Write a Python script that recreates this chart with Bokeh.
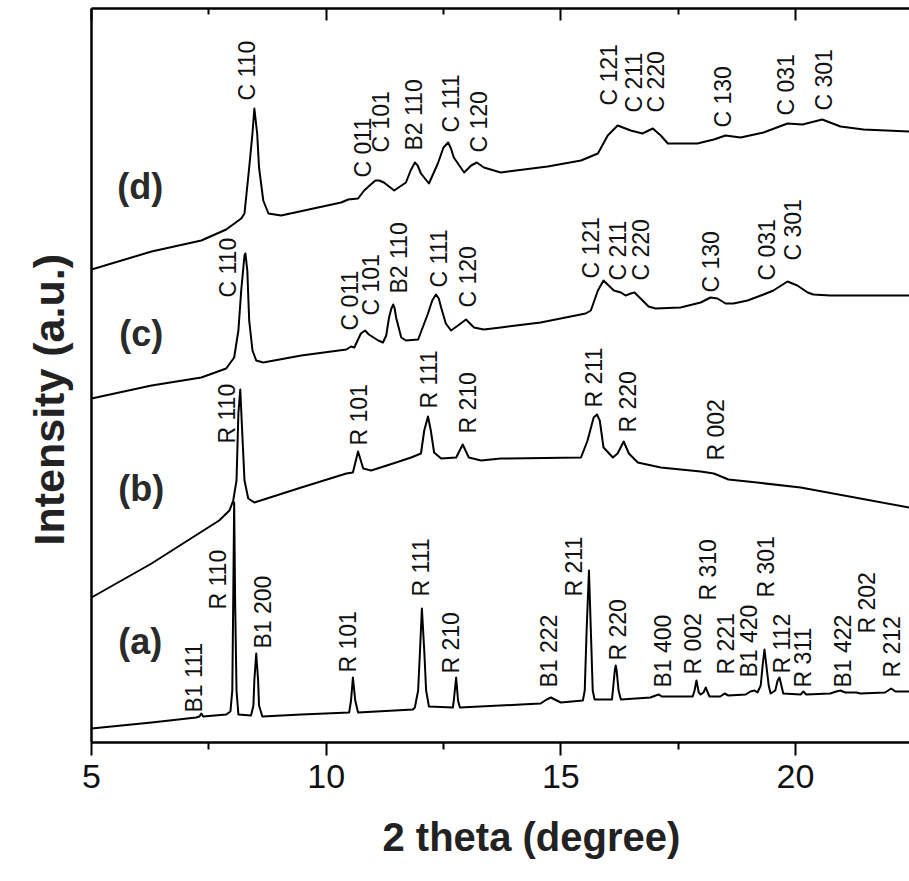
import math

from bokeh.core.properties import value
from bokeh.embed import file_html
from bokeh.models import ColumnDataSource, FixedTicker, LinearAxis, Range1d, Title
from bokeh.plotting import figure
from bokeh.resources import INLINE

# ---------------------------------------------------------------------------
# XRD patterns: 2-theta (degree) vs. intensity (a.u., offset per pattern)
# ---------------------------------------------------------------------------
two_theta_a = [5.00, 6.28, 7.23, 7.30, 7.34, 7.38, 7.87, 7.96, 8.00, 8.02, 8.04, 8.06,
               8.09, 8.13, 8.40, 8.45, 8.47, 8.51, 8.55, 8.57, 8.64, 9.47, 10.49, 10.53,
               10.57, 10.62, 10.68, 11.85, 11.89, 11.96, 12.00, 12.04, 12.09, 12.13, 12.19,
               12.70, 12.72, 12.77, 12.81, 12.85, 14.15, 14.57, 14.70, 14.79, 14.87, 15.00,
               15.47, 15.51, 15.55, 15.60, 15.64, 15.68, 15.72, 16.09, 16.11, 16.15, 16.17,
               16.19, 16.23, 16.28, 16.91, 17.02, 17.09, 17.15, 17.81, 17.85, 17.89, 17.94,
               17.98, 18.04, 18.09, 18.13, 18.17, 18.40, 18.49, 18.57, 18.94, 19.04, 19.13,
               19.19, 19.26, 19.30, 19.34, 19.38, 19.43, 19.47, 19.57, 19.62, 19.66, 19.70,
               19.74, 20.11, 20.17, 20.23, 20.74, 20.87, 20.96, 21.06, 21.30, 21.38, 21.91,
               22.04, 22.13, 22.43]
intensity_a = [14, 20, 25, 26, 29, 26, 28, 31, 52, 142, 240, 142,
               52, 28, 27, 37, 62, 89, 62, 37, 26, 28, 30, 42,
               65, 42, 30, 33, 35, 52, 92, 134, 92, 52, 36,
               35, 42, 65, 42, 35, 38, 39, 43, 45, 43, 40,
               42, 52, 112, 172, 112, 52, 43, 43, 52, 72, 77,
               72, 52, 43, 45, 47, 48, 46, 46, 52, 62, 50,
               48, 50, 55, 50, 46, 46, 49, 47, 48, 51, 52,
               50, 57, 77, 93, 77, 57, 49, 52, 62, 65, 57,
               49, 48, 51, 48, 49, 51, 52, 50, 50, 49, 50,
               54, 51, 51]

two_theta_b = [5.00, 6.28, 7.72, 7.94, 8.02, 8.09, 8.13, 8.17, 8.21, 8.26, 8.34, 8.47,
               9.47, 10.43, 10.57, 10.68, 10.79, 10.96, 11.49, 11.81, 12.02, 12.09, 12.17,
               12.23, 12.30, 12.45, 12.77, 12.91, 13.04, 13.30, 13.72, 15.43, 15.57, 15.70,
               15.77, 15.83, 15.91, 16.11, 16.21, 16.34, 16.45, 16.64, 17.13, 17.98, 18.26,
               18.47, 18.57, 18.98, 20.11, 22.43]
intensity_b = [145, 179, 222, 232, 242, 262, 329, 353, 312, 262, 244, 240,
               255, 269, 270, 291, 274, 272, 280, 285, 289, 312, 326,
               312, 290, 284, 285, 298, 285, 282, 284, 285, 302, 325,
               328, 322, 295, 285, 289, 301, 289, 280, 275, 271, 269,
               265, 263, 261, 255, 235]

two_theta_c = [5.00, 6.28, 7.34, 7.87, 8.04, 8.13, 8.19, 8.26, 8.28, 8.32, 8.36, 8.43,
               8.51, 8.66, 9.47, 10.43, 10.53, 10.60, 10.74, 10.83, 10.91, 11.11, 11.21,
               11.28, 11.34, 11.39, 11.43, 11.46, 11.49, 11.60, 11.70, 11.96, 12.17, 12.26,
               12.34, 12.40, 12.45, 12.55, 12.66, 12.81, 12.98, 13.15, 13.36, 13.72, 14.57,
               15.53, 15.64, 15.79, 15.91, 16.13, 16.28, 16.38, 16.49, 16.57, 16.70, 16.87,
               17.02, 17.55, 17.98, 18.19, 18.34, 18.51, 18.68, 18.98, 19.32, 19.53, 19.83,
               20.04, 20.26, 20.38, 20.74, 22.43]
intensity_c = [344, 357, 365, 374, 385, 412, 452, 487, 489, 472, 422, 392,
               382, 380, 387, 393, 396, 395, 409, 412, 408, 402, 400,
               407, 425, 434, 438, 434, 425, 405, 402, 403, 429, 442,
               448, 444, 435, 419, 412, 417, 423, 415, 413, 415, 420,
               429, 432, 452, 462, 452, 450, 447, 449, 450, 444, 436,
               434, 435, 440, 445, 444, 439, 439, 442, 448, 452, 461,
               457, 450, 448, 447, 447]

two_theta_d = [5.00, 6.28, 7.34, 7.87, 8.19, 8.26, 8.36, 8.43, 8.47, 8.53, 8.57, 8.66,
               8.77, 9.04, 10.32, 10.47, 10.68, 10.81, 10.95, 11.05, 11.13, 11.23, 11.45,
               11.70, 11.80, 11.89, 11.95, 12.02, 12.19, 12.38, 12.50, 12.60, 12.66, 12.72,
               12.94, 13.09, 13.21, 13.36, 13.72, 14.72, 15.43, 15.79, 16.00, 16.21, 16.49,
               16.74, 16.96, 17.13, 17.28, 17.91, 18.26, 18.51, 18.83, 19.32, 19.83, 20.15,
               20.57, 20.96, 21.45, 22.43]
intensity_d = [473, 491, 502, 513, 524, 529, 575, 609, 634, 609, 575, 542,
               529, 527, 540, 543, 544, 552, 558, 562, 562, 560, 552,
               560, 572, 580, 577, 569, 559, 579, 595, 600, 594, 585,
               570, 577, 580, 575, 570, 576, 582, 589, 607, 617, 612,
               609, 614, 607, 599, 599, 603, 607, 605, 610, 619, 618,
               623, 616, 613, 611]

# Reflection assignments (R, B1, B2, C phases) for each pattern
peaks_a = ["B1 111", "R 110", "B1 200", "R 101", "R 111", "R 210", "B1 222", "R 211",
           "R 220", "B1 400", "R 002", "R 310", "R 221", "B1 420", "R 301", "R 112",
           "R 311", "B1 422", "R 202", "R 212"]
peaks_b = ["R 110", "R 101", "R 111", "R 210", "R 211", "R 220", "R 002"]
peaks_c = ["C 110", "C 011", "C 101", "B2 110", "C 111", "C 120", "C 121", "C 211",
           "C 220", "C 130", "C 031", "C 301"]
peaks_d = list(peaks_c)

sample_names = ["(a)", "(b)", "(c)", "(d)"]

x_ticks = [5, 10, 15, 20]
x_minor_ticks = [7.5, 12.5, 17.5, 22.5]

# ---------------------------------------------------------------------------
# Annotation layout: anchor (2-theta, a.u.) where each rotated label starts
# ---------------------------------------------------------------------------
label_pos_a = ([7.19, 7.70, 8.66, 10.47, 12.02, 12.66, 14.74, 15.28, 16.21, 17.17,
                17.81, 18.13, 18.51, 19.02, 19.38, 19.72, 20.17, 21.02, 21.53, 22.06],
               [30, 133, 94, 70, 146, 69, 55, 146, 82, 55,
                68, 142, 68, 65, 145, 69, 55, 55, 109, 65])
label_pos_b = ([7.89, 10.70, 12.19, 13.02, 15.70, 16.43, 18.30],
               [299, 297, 334, 309, 335, 310, 282])
label_pos_c = ([7.91, 10.51, 10.96, 11.55, 12.40, 13.02, 15.64, 16.21, 16.70, 18.19,
                19.40, 19.94],
               [445, 412, 427, 449, 455, 435, 464, 462, 462, 450, 462, 482])
label_pos_d = ([8.32, 10.79, 11.17, 11.87, 12.66, 13.26, 16.02, 16.55, 17.02, 18.45,
                19.79, 20.60],
               [642, 565, 590, 592, 610, 590, 637, 630, 630, 615, 627, 632])
sample_pos = ([6.04, 6.06, 6.06, 6.04], [101, 254, 409, 556])

FONT = "Liberation Sans"
INK = "#111111"
TITLE_INK = "#222222"

p = figure(width=909, height=881, output_backend="svg", toolbar_location=None,
           x_range=Range1d(5, 22.43), y_range=Range1d(0, 734),
           x_axis_location=None, y_axis_location=None,
           min_border_left=91, min_border_right=0, min_border_top=8,
           min_border_bottom=139)
p.outline_line_color = None
p.background_fill_color = "white"
p.border_fill_color = "white"
p.xgrid.grid_line_color = None
p.ygrid.grid_line_color = None

# diffraction curves
for xs, ys in [(two_theta_a, intensity_a), (two_theta_b, intensity_b),
               (two_theta_c, intensity_c), (two_theta_d, intensity_d)]:
    p.line(xs, ys, line_color="black", line_width=2, line_join="round")

# rotated reflection labels
for names, (lx, ly) in [(peaks_a, label_pos_a), (peaks_b, label_pos_b),
                        (peaks_c, label_pos_c), (peaks_d, label_pos_d)]:
    src = ColumnDataSource(dict(x=lx, y=ly, t=names))
    p.text(x="x", y="y", text="t", source=src, angle=math.pi / 2,
           text_align="left", text_baseline="middle",
           text_font=value(FONT), text_font_size="23px", text_color=INK)

# sample tags
p.text(x=sample_pos[0], y=sample_pos[1], text=sample_names,
       text_align="center", text_baseline="middle",
       text_font=value(FONT), text_font_size="36px", text_font_style="bold",
       text_color="#2a2a2a")

ticker = FixedTicker(ticks=x_ticks, minor_ticks=x_minor_ticks)

bottom = LinearAxis(ticker=ticker)
bottom.axis_line_width = 2.5
bottom.major_tick_line_width = 2
bottom.minor_tick_line_width = 2
bottom.major_tick_in = 0
bottom.major_tick_out = 13
bottom.minor_tick_in = 0
bottom.minor_tick_out = 7
bottom.major_label_standoff = 9
bottom.major_label_text_font = FONT
bottom.major_label_text_font_size = "34px"
bottom.major_label_text_color = INK
p.add_layout(bottom, "below")

top = LinearAxis(ticker=ticker)
top.axis_line_width = 2.5
top.major_tick_line_width = 2
top.minor_tick_line_width = 2
top.major_tick_in = 12
top.major_tick_out = 0
top.minor_tick_in = 6
top.minor_tick_out = 0
top.major_label_text_font_size = "0px"
top.major_label_text_color = None
top.major_label_standoff = 0
p.add_layout(top, "above")

left = LinearAxis(ticker=FixedTicker(ticks=[]))
left.axis_line_width = 2.5
left.major_tick_in = 0
left.major_tick_out = 0
left.minor_tick_in = 0
left.minor_tick_out = 0
left.major_label_text_font_size = "0px"
left.major_label_text_color = None
left.major_label_standoff = 0
p.add_layout(left, "left")

# axis titles, set in the side panels
x_title = Title(text="2 theta (degree)", align="left", offset=291, standoff=44,
                text_line_height=0.75,
                text_font=FONT, text_font_size="40px", text_font_style="bold",
                text_color=TITLE_INK)
p.add_layout(x_title, "below")
y_title = Title(text="Intensity (a.u.)", align="left", offset=197, standoff=38,
                text_line_height=0.8,
                text_font=FONT, text_font_size="43px", text_font_style="bold",
                text_color=TITLE_INK)
p.add_layout(y_title, "left")

open("out.html", "w").write(file_html(p, INLINE))
